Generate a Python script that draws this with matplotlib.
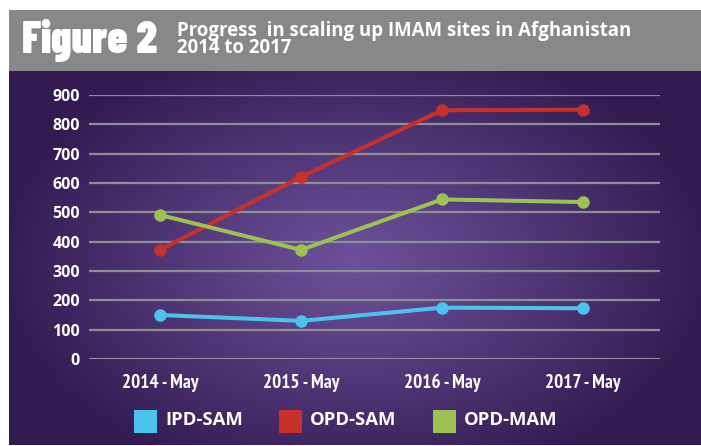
import numpy as np
import matplotlib
matplotlib.use("Agg")
import matplotlib.pyplot as plt
from matplotlib import font_manager
from matplotlib.patches import Rectangle

# Data
periods = ["2014 - May", "2015 - May", "2016 - May", "2017 - May"]
ipd_sam = [150, 130, 175, 173]
opd_sam = [372, 621, 848, 850]
opd_mam = [491, 372, 544, 535]

series_names = ["IPD-SAM", "OPD-SAM", "OPD-MAM"]
series_colors = ["#4cc3ec", "#c8302a", "#9dc254"]

W, H = 701, 446


def wnum(w):
    table = {"ultralight": 200, "light": 300, "normal": 400, "regular": 400, "book": 400,
             "medium": 500, "semibold": 600, "demibold": 600, "bold": 700,
             "extra bold": 800, "heavy": 800, "black": 900}
    if isinstance(w, str):
        return table.get(w.lower(), 400)
    return int(w)


# families that have a bold face installed
bold_names = {f.name for f in font_manager.fontManager.ttflist if wnum(f.weight) >= 700}


def pick(options):
    for o in options:
        if o in bold_names:
            return o
    return "DejaVu Sans"


heavy = pick(["Barlow Condensed", "Roboto Condensed", "Oswald", "PT Sans Narrow"])
narrow = pick(["PT Sans Narrow", "Roboto Condensed", "Archivo Narrow", "Barlow Condensed",
               "Liberation Sans Narrow"])
semi = pick(["Open Sans", "Noto Sans", "PT Sans", "Lato"])


def fx(px):
    return px / W


def fy(py):
    return 1 - py / H


fig = plt.figure(figsize=(W / 100, H / 100), dpi=100)
fig.patch.set_facecolor("white")

# gray header band
fig.add_artist(Rectangle((fx(9), fy(71)), fx(701) - fx(9), fy(10) - fy(71),
                         transform=fig.transFigure, facecolor="#87888a", edgecolor="none"))

# purple panel with radial glow
bg = fig.add_axes([fx(9), fy(445), fx(701) - fx(9), fy(71) - fy(445)])
gx, gy = np.meshgrid(np.arange(9, 701), np.arange(71, 445))
r = np.sqrt(((gx - 355) / 360.0) ** 2 + ((gy - 262) / 230.0) ** 2)
t = np.clip(r, 0, 1) ** 1.1
c_in = np.array([0x6c, 0x50, 0x9a]) / 255
c_out = np.array([0x33, 0x1b, 0x51]) / 255
img = c_in[None, None, :] + (c_out - c_in)[None, None, :] * t[:, :, None]
bg.imshow(img, aspect="auto", interpolation="bilinear")
bg.set_axis_off()

# plot area
ax = fig.add_axes([fx(89), fy(359), fx(660) - fx(89), fy(95) - fy(359)])
ax.set_facecolor("none")
x = np.arange(len(periods))
for vals, col in zip([ipd_sam, opd_sam, opd_mam], series_colors):
    ax.plot(x, vals, color=col, lw=2.9, marker="o", ms=8, clip_on=False, zorder=3)

ax.set_xlim(-0.504, 3.546)
ax.set_ylim(0, 900)
ax.set_yticks(range(0, 1000, 100))
ax.yaxis.grid(True, color="#8f8f92", lw=1.6)
ax.set_xticks([])
for s in ax.spines.values():
    s.set_visible(False)
ax.tick_params(axis="y", length=0, pad=6.5, labelcolor="white", labelsize=11.5)
for lab in ax.get_yticklabels():
    lab.set_fontfamily(semi)
    lab.set_fontweight("bold")

for xi, lab in zip(x, periods):
    ax.text(xi, -0.11, lab, transform=ax.get_xaxis_transform(), ha="center", va="baseline",
            color="white", fontsize=13.8, fontweight="bold", fontfamily=narrow)

# header text
fig.text(fx(22), fy(53), "Figure 2", color="white", fontsize=32, fontweight="black",
         fontfamily=heavy, va="baseline", ha="left")
fig.text(fx(177), fy(36), "Progress  in scaling up IMAM sites in Afghanistan",
         color="white", fontsize=13.4, fontweight="bold", fontfamily=semi, va="baseline")
fig.text(fx(177), fy(53), "2014 to 2017",
         color="white", fontsize=13.4, fontweight="bold", fontfamily=semi, va="baseline")

# legend
box_x = [134, 279, 433]
for bx, name, col in zip(box_x, series_names, series_colors):
    fig.add_artist(Rectangle((fx(bx), fy(433)), fx(23), fy(0) - fy(23),
                             transform=fig.transFigure, facecolor=col, edgecolor="none"))
    fig.text(fx(bx + 31), fy(420), name, color="white", fontsize=13.3, fontweight="bold",
             fontfamily=semi, va="center", ha="left")

fig.savefig("out.png", dpi=100)
